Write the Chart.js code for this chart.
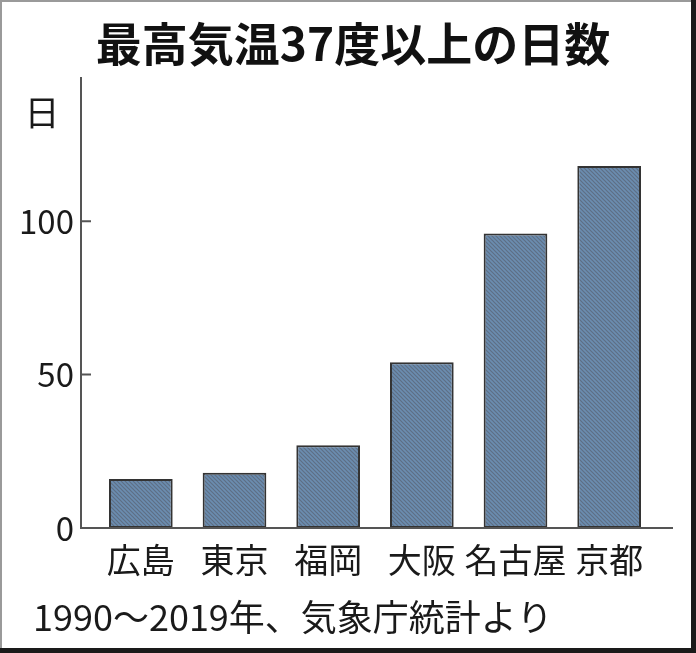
<!DOCTYPE html>
<html lang="ja">
<head>
<meta charset="utf-8">
<title>最高気温37度以上の日数</title>
<script src="https://cdn.jsdelivr.net/npm/chart.js@4.4.1/dist/chart.umd.min.js"></script>
<style>
  html, body { margin: 0; padding: 0; background: #fff; }
  #wrap { width: 696px; height: 653px; position: relative; }
</style>
</head>
<body>
<div id="wrap"><canvas id="myChart" width="696" height="653"></canvas></div>
<script>
  "use strict";

  // ___________ data ___________ //
  const cities = ["広島", "東京", "福岡", "大阪", "名古屋", "京都"];
  const days = [16, 18, 27, 54, 96, 118];
  const yTicks = [0, 50, 100];
  const titleText = "最高気温37度以上の日数";
  const unitText = "日";
  const noteText = "1990〜2019年、気象庁統計より";

  const JP = '"Noto Sans CJK JP", "Noto Sans", sans-serif';
  const NUM = '"Liberation Sans Narrow", "Noto Sans CJK JP", sans-serif';

  // hatched blue-gray fill like the print
  function hatch() {
    const c = document.createElement("canvas");
    c.width = 4;
    c.height = 4;
    const g = c.getContext("2d");
    g.fillStyle = "#6b8db0";
    g.fillRect(0, 0, 4, 4);
    g.strokeStyle = "#5e6f85";
    g.lineWidth = 1.2;
    g.beginPath();
    g.moveTo(0, 0);
    g.lineTo(4, 4);
    g.moveTo(-2, 2);
    g.lineTo(2, 6);
    g.moveTo(2, -2);
    g.lineTo(6, 2);
    g.stroke();
    return g.createPattern(c, "repeat");
  }

  // ___________ title, axes, notes, frame ___________ //
  const decor = {
    id: "decor",
    afterDraw(chart) {
      const ctx = chart.ctx;
      const area = chart.chartArea;
      const y = chart.scales.y;
      const axisX = area.left - 13;
      ctx.save();
      ctx.strokeStyle = "#555";
      ctx.lineWidth = 2;
      ctx.beginPath();
      ctx.moveTo(axisX, area.top);
      ctx.lineTo(axisX, area.bottom);
      ctx.lineTo(area.right + 17, area.bottom);
      yTicks.forEach(function (v) {
        if (v === 0) return;
        const py = y.getPixelForValue(v);
        ctx.moveTo(axisX, py);
        ctx.lineTo(axisX + 10, py);
      });
      ctx.stroke();

      ctx.fillStyle = "#111";
      ctx.textBaseline = "middle";
      ctx.textAlign = "center";
      ctx.font = "bold 46px " + JP;
      ctx.fillText(titleText, 353, 44);

      ctx.fillStyle = "#1a1a1a";
      ctx.font = "35px " + JP;
      ctx.fillText(unitText, 42, 113);

      ctx.textAlign = "left";
      ctx.font = "36px " + JP;
      ctx.fillText(noteText, 33, 617);

      // frame
      ctx.fillStyle = "#9a9a9a";
      ctx.fillRect(0, 0, 696, 2);
      ctx.fillRect(0, 0, 2, 653);
      ctx.fillStyle = "#1a1a1a";
      ctx.fillRect(691, 0, 5, 653);
      ctx.fillRect(0, 648, 696, 5);
      ctx.restore();
    },
  };

  const ctx = document.getElementById("myChart").getContext("2d");
  const myChart = new Chart(ctx, {
    type: "bar",
    data: {
      labels: cities,
      datasets: [
        {
          label: unitText,
          data: days,
          backgroundColor: hatch(),
          borderColor: "#333333",
          borderWidth: 2,
          borderSkipped: false,
          categoryPercentage: 1,
          barPercentage: 0.68,
        },
      ],
    },
    options: {
      responsive: false,
      devicePixelRatio: 1,
      animation: false,
      layout: { padding: { left: 2, right: 40, top: 77, bottom: 71 } },
      plugins: {
        legend: { display: false },
        tooltip: { enabled: false },
        title: { display: false },
      },
      scales: {
        x: {
          afterFit: function (scale) {
            scale.height = 54;
          },
          grid: { display: false, drawTicks: false },
          border: { display: false },
          ticks: {
            color: "#1a1a1a",
            padding: 12,
            autoSkip: false,
            font: { family: JP, size: 34, lineHeight: 1.2 },
            maxRotation: 0,
          },
        },
        y: {
          min: 0,
          max: 147,
          afterBuildTicks: function (scale) {
            scale.ticks = yTicks.map(function (v) {
              return { value: v };
            });
          },
          afterFit: function (scale) {
            scale.width = 92;
          },
          grid: { display: false, drawTicks: false },
          border: { display: false },
          ticks: {
            color: "#1a1a1a",
            padding: 20,
            font: { family: NUM, size: 33 },
          },
        },
      },
    },
    plugins: [decor],
  });
</script>
</body>
</html>
